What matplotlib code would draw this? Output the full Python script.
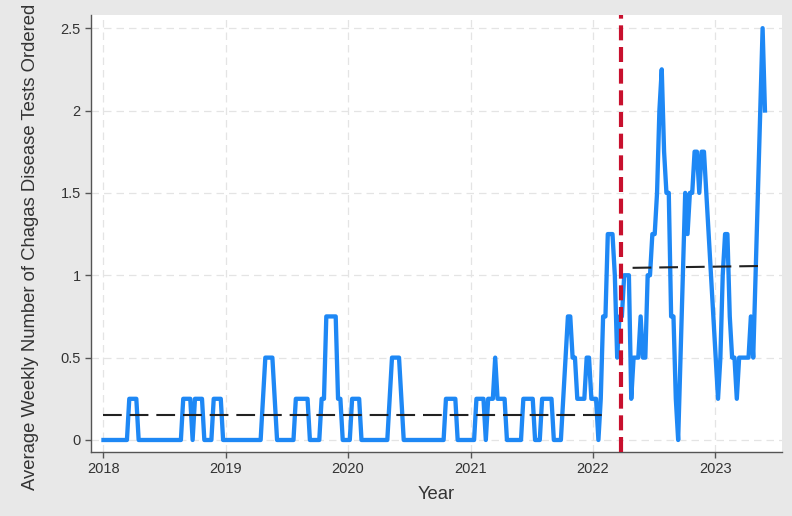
import matplotlib
matplotlib.use('Agg')

import matplotlib.pyplot as plt
import matplotlib.dates as mdates
import matplotlib.ticker as mticker
import pandas as pd

plt.rcParams['font.family'] = ['Liberation Sans', 'DejaVu Sans']

# average weekly number of tests, one value per week from 2018-01-01
first_week = '2018-01-01'
weekly_avg = [
    0, 0, 0, 0, 0, 0, 0, 0, 0, 0,
    0, .25, .25, .25, .25, 0, 0, 0, 0, 0,
    0, 0, 0, 0, 0, 0, 0, 0, 0, 0,
    0, 0, 0, 0, .25, .25, .25, .25, 0, .25,
    .25, .25, .25, 0, 0, 0, 0, .25, .25, .25,
    .25, 0, 0, 0, 0, 0, 0, 0, 0, 0,
    0, 0, 0, 0, 0, 0, 0, 0, .25, .5,
    .5, .5, .5, .25, 0, 0, 0, 0, 0, 0,
    0, 0, .25, .25, .25, .25, .25, .25, 0, 0,
    0, 0, 0, .25, .25, .75, .75, .75, .75, .75,
    .25, .25, 0, 0, 0, 0, .25, .25, .25, .25,
    0, 0, 0, 0, 0, 0, 0, 0, 0, 0,
    0, 0, .25, .5, .5, .5, .5, .25, 0, 0,
    0, 0, 0, 0, 0, 0, 0, 0, 0, 0,
    0, 0, 0, 0, 0, 0, .25, .25, .25, .25,
    .25, 0, 0, 0, 0, 0, 0, 0, 0, .25,
    .25, .25, .25, 0, .25, .25, .25, .5, .25, .25,
    .25, .25, 0, 0, 0, 0, 0, 0, 0, .25,
    .25, .25, .25, .25, 0, 0, 0, .25, .25, .25,
    .25, .25, 0, 0, 0, 0, .25, .5, .75, .75,
    .5, .5, .25, .25, .25, .25, .5, .5, .25, .25,
    .25, 0, .25, .75, .75, 1.25, 1.25, 1.25, 1, .5,
    .75, .75, 1, 1, 1, .25, .5, .5, .5, .75,
    .5, .5, 1, 1, 1.25, 1.25, 1.5, 2, 2.25, 1.75,
    1.5, 1.5, .75, .75, .25, 0, .5, 1, 1.5, 1.25,
    1.5, 1.5, 1.75, 1.75, 1.5, 1.75, 1.75, 1.5, 1.25, 1,
    .75, .5, .25, .5, 1, 1.25, 1.25, .75, .5, .5,
    .25, .5, .5, .5, .5, .5, .75, .5, 1, 1.5,
    2, 2.5, 2,
]

# fitted levels before and after the intervention
pre_fit_dates = ['2018-01-01', '2022-02-12']
pre_fit_values = [0.152, 0.152]
post_fit_dates = ['2022-04-29', '2023-05-09']
post_fit_values = [1.045, 1.056]
intervention_date = '2022-03-25'

y_ticks = [0, 0.5, 1, 1.5, 2, 2.5]

weeks = pd.date_range(first_week, periods=len(weekly_avg), freq='7D')

fig = plt.figure(figsize=(7.92, 5.16), dpi=100, facecolor='#e8e8e8')
ax = fig.add_axes([0.115, 0.124, 0.872, 0.847])
ax.set_facecolor('white')

ax.plot(weeks, weekly_avg, color='#1e88f5', linewidth=3.1, solid_joinstyle='round', zorder=3)
ax.plot(pd.to_datetime(pre_fit_dates), pre_fit_values, color='#222222',
        linewidth=1.5, linestyle=(0, (9, 3.8)), zorder=4)
ax.plot(pd.to_datetime(post_fit_dates), post_fit_values, color='#222222',
        linewidth=1.5, linestyle=(0, (9, 3.8)), zorder=4)
ax.axvline(pd.Timestamp(intervention_date), color='#c8102e', linewidth=3,
           linestyle=(0, (3.6, 1.6)), zorder=5)

ax.set_xlim(pd.Timestamp('2017-11-25'), pd.Timestamp('2023-07-18'))
ax.set_ylim(-0.073, 2.58)
ax.xaxis.set_major_locator(mdates.YearLocator())
ax.xaxis.set_major_formatter(mdates.DateFormatter('%Y'))
ax.set_yticks(y_ticks)
ax.yaxis.set_major_formatter(mticker.FormatStrFormatter('%g'))

ax.grid(True, color='#e4e4e4', linestyle=(0, (6, 4)), linewidth=0.9)
ax.set_axisbelow(True)

for side in ['top', 'right']:
    ax.spines[side].set_visible(False)
for side in ['left', 'bottom']:
    ax.spines[side].set_color('#555555')
    ax.spines[side].set_linewidth(1)

ax.tick_params(axis='both', length=4, width=1, color='#555555',
               labelsize=10.5, labelcolor='#333333')

ax.set_xlabel('Year', fontsize=13.3, color='#333333', labelpad=7)
ax.set_ylabel('Average Weekly Number of Chagas Disease Tests Ordered',
              fontsize=13.3, color='#333333')
ax.yaxis.set_label_coords(-0.075, 0.469)

fig.savefig('out.png', dpi=100, facecolor=fig.get_facecolor())
